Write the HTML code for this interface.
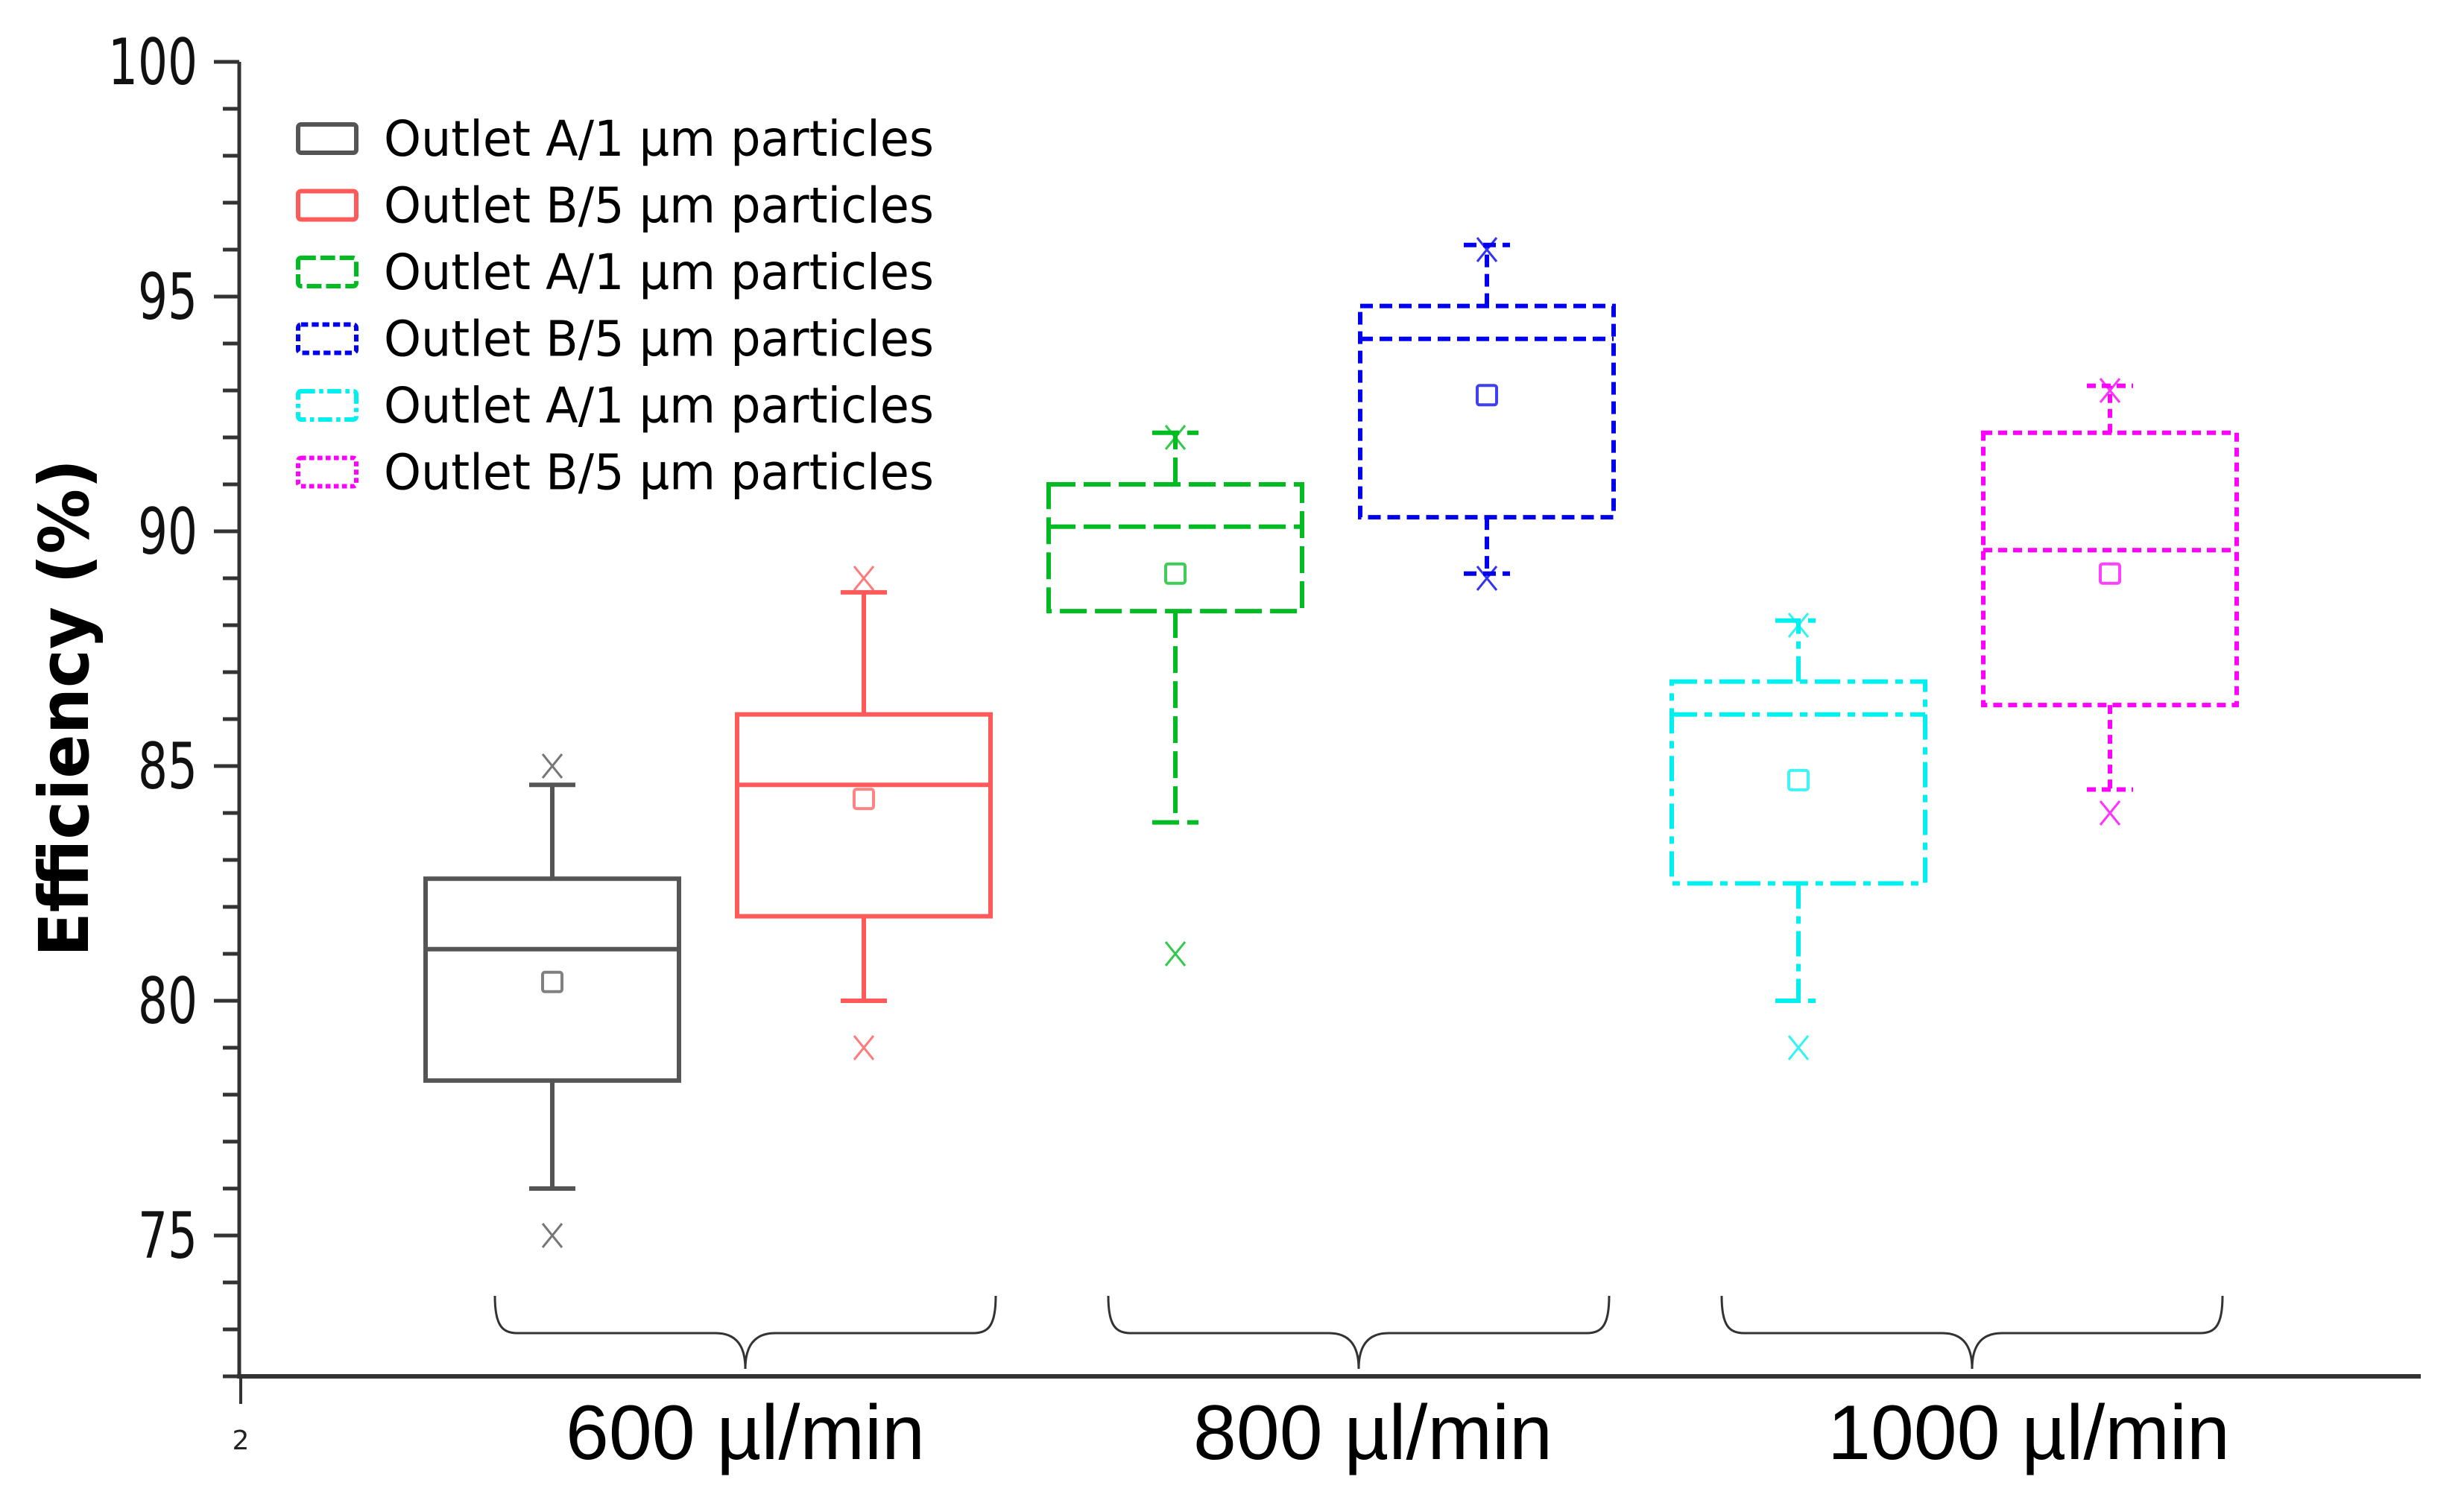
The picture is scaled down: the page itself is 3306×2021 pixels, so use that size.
<!DOCTYPE html>
<html><head><meta charset="utf-8">
<style>
html,body{margin:0;padding:0;background:#fff;}
svg{display:block;}
text{font-family:"DejaVu Sans","Liberation Sans",sans-serif;}
</style></head>
<body>
<svg id="chart" width="3306" height="2021" viewBox="0 0 3306 2021" xmlns="http://www.w3.org/2000/svg">
<g id="axes"></g>
<g id="boxes"></g>
<g id="legend"></g>
</svg>
<script>
// ---- data ----
const seriesNames = ["Outlet A/1 µm particles","Outlet B/5 µm particles","Outlet A/1 µm particles","Outlet B/5 µm particles","Outlet A/1 µm particles","Outlet B/5 µm particles"];
const groupLabels = ["600 µl/min","800 µl/min","1000 µl/min"];
const q1Values     = [78.3, 81.8, 88.3, 90.3, 82.5, 86.3];
const q3Values     = [82.6, 86.1, 91.0, 94.8, 86.8, 92.1];
const medianValues = [81.1, 84.6, 90.1, 94.1, 86.1, 89.6];
const meanValues   = [80.4, 84.3, 89.1, 92.9, 84.7, 89.1];
const whiskerLow   = [76.0, 80.0, 83.8, 89.1, 80.0, 84.5];
const whiskerHigh  = [84.6, 88.7, 92.1, 96.1, 88.1, 93.1];
const minValues    = [75, 79, 81, 89, 79, 84];
const maxValues    = [85, 89, 92, 96, 88, 93];
const yTickLabels  = [75, 80, 85, 90, 95, 100];

// ---- styles ----
const colors = ["#555555","#ff5a5a","#00bb22","#0000ee","#00f0f0","#ff00ff"];
const dashes = ["", "", "36 11", "17 9", "34 10 10 10", "12 8"];

const NS = "http://www.w3.org/2000/svg";
function mk(tag, attrs, parent){
  const e = document.createElementNS(NS, tag);
  for (const k in attrs) e.setAttribute(k, attrs[k]);
  parent.appendChild(e);
  return e;
}
// axis functions
const yMin = 72, yMax = 100, yTop = 83, yBot = 1847;
function yScale(v){ return yBot - (v - yMin) / (yMax - yMin) * (yBot - yTop); }
const x0 = 741, xStep = 418;
function xScale(i){ return x0 + i * xStep; }
// group (brace) positions on the categorical axis
const gx0 = 1000, gStep = 823;
function gScale(g){ return gx0 + g * gStep; }
const boxHalf = 170, capHalf = 31;

const axes = document.getElementById('axes');
const axX = 321;
let el = mk('line',{x1:axX,y1:yScale(yMax),x2:axX,y2:yBot+3,stroke:'#333','stroke-width':5},axes);


el = mk('line',{x1:axX-3,y1:yBot,x2:3248,y2:yBot,stroke:'#333','stroke-width':6},axes);


el = mk('line',{x1:axX+2,y1:yBot,x2:axX+2,y2:1884,stroke:'#333','stroke-width':4},axes);


el = mk('text',{x:axX+2,y:1945,'font-size':36,'text-anchor':'middle',fill:'#222'},axes);
el.textContent = '2';


for (let v = yMin; v <= yMax; v++){
  const major = v % 5 === 0;
  el = mk('line',{x1:axX-(major?34:22),y1:yScale(v),x2:axX,y2:yScale(v),stroke:'#333','stroke-width':5},axes);
  
  
}
yTickLabels.forEach(v=>{
  const w = String(v).length * 40;
  el = mk('text',{x:265,y:yScale(v)+30,'font-size':86,'text-anchor':'end',fill:'#111',textLength:w,lengthAdjust:'spacingAndGlyphs'},axes);
  el.textContent = v;
  
  
});
el = mk('text',{x:0,y:0,'font-size':92,'font-weight':'bold','text-anchor':'middle',fill:'#000',transform:'translate(118,950) rotate(-90)',textLength:668,lengthAdjust:'spacingAndGlyphs'},axes);
el.textContent = 'Efficiency (%)';



// braces and group labels
const labelOffsets = [0, 19, 76];
groupLabels.forEach((lab, g)=>{
  const cx = gScale(g);
  const L = cx - 336, R = cx + 336, t = 1739, h = 1789, tip = 1837;
  const d = `M${L},${t} C${L},${h-10} ${L+10},${h} ${L+30},${h} L${cx-40},${h} C${cx-10},${h} ${cx},${h+20} ${cx},${tip} C${cx},${h+20} ${cx+10},${h} ${cx+40},${h} L${R-30},${h} C${R-10},${h} ${R},${h-10} ${R},${t}`;
  el = mk('path',{d:d,fill:'none',stroke:'#333','stroke-width':3},axes);
  
  
  el = mk('text',{x:cx+labelOffsets[g],y:1958,'font-size':104,'text-anchor':'middle',fill:'#000',style:'font-family:"Liberation Sans",sans-serif'},axes);
  el.textContent = lab;
  
  
});

// boxes
const boxes = document.getElementById('boxes');
seriesNames.forEach((n, i)=>{
  const g = mk('g',{stroke:colors[i],fill:'none','stroke-width':6,'stroke-dasharray':dashes[i]},boxes);
  
  
  const cx = xScale(i);
  el = mk('rect',{x:cx-boxHalf,y:yScale(q3Values[i]),width:2*boxHalf,height:yScale(q1Values[i])-yScale(q3Values[i])},g);
  
  
  el = mk('line',{x1:cx-boxHalf,x2:cx+boxHalf,y1:yScale(medianValues[i]),y2:yScale(medianValues[i])},g);
  
  
  el = mk('line',{x1:cx,x2:cx,y1:yScale(q3Values[i]),y2:yScale(whiskerHigh[i])},g);
  
  
  el = mk('line',{x1:cx,x2:cx,y1:yScale(q1Values[i]),y2:yScale(whiskerLow[i])},g);
  
  
  el = mk('line',{x1:cx-capHalf,x2:cx+capHalf,y1:yScale(whiskerHigh[i]),y2:yScale(whiskerHigh[i])},g);
  
  
  el = mk('line',{x1:cx-capHalf,x2:cx+capHalf,y1:yScale(whiskerLow[i]),y2:yScale(whiskerLow[i])},g);
  
  
  el = mk('rect',{x:cx-13,y:yScale(meanValues[i])-13,width:26,height:26,'stroke-dasharray':'none','stroke-width':4,rx:3,opacity:0.75},g);
  
  
  [maxValues[i], minValues[i]].forEach((v, k)=>{
    const y = yScale(v);
    el = mk('path',{d:`M${cx-13},${y-16} L${cx+13},${y+16} M${cx+13},${y-16} L${cx-13},${y+16}`,'stroke-dasharray':'none','stroke-width':3,opacity:0.8},g);
    
    
  });
});

// legend
const legend = document.getElementById('legend');
seriesNames.forEach((n, i)=>{
  const y = 185 + i * 89.5;
  const g = mk('g',{},legend);
  
  
  el = mk('rect',{x:400,y:y-18,width:78,height:38,rx:4,fill:'none',stroke:colors[i],'stroke-width':6,'stroke-dasharray':dashes[i]?dashes[i].split(' ').map(s=>s*0.55).join(' '):'none'},g);
  
  
  el = mk('text',{x:515,y:y+24,'font-size':66,fill:'#000',textLength:738,lengthAdjust:'spacingAndGlyphs'},g);
  el.textContent = n;
  
  
});
</script>
</body></html>
